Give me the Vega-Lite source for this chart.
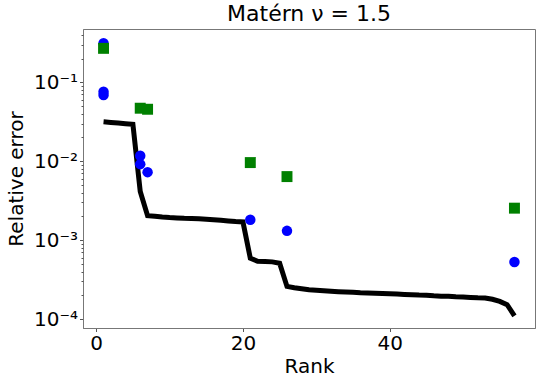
{
  "$schema": "https://vega.github.io/schema/vega-lite/v6.json",
  "width": 452,
  "height": 299,
  "autosize": {"type": "none"},
  "padding": {"left": 83, "top": 29, "right": 5, "bottom": 55},
  "background": "white",
  "config": {
    "font": "DejaVu Sans",
    "view": {"stroke": "#777777", "strokeWidth": 1},
    "axis": {"grid": false, "domainColor": "#777777", "tickColor": "#555555", "labelColor": "black", "titleColor": "black", "labelFont": "DejaVu Sans", "titleFont": "DejaVu Sans", "titleFontWeight": "normal"}
  },
  "title": {"text": "Matérn ν = 1.5", "fontSize": 22, "fontWeight": "normal", "font": "DejaVu Sans", "anchor": "middle", "offset": 3, "color": "black"},
  "datasets": {
    "curve": [
      {"rank": 1, "err": 0.0316}, {"rank": 2, "err": 0.0310}, {"rank": 3, "err": 0.0305}, {"rank": 4, "err": 0.0299}, {"rank": 5, "err": 0.0293},
      {"rank": 6, "err": 0.00414}, {"rank": 7, "err": 0.00204}, {"rank": 8, "err": 0.00200}, {"rank": 9, "err": 0.00196}, {"rank": 10, "err": 0.00193},
      {"rank": 11, "err": 0.00191}, {"rank": 12, "err": 0.00189}, {"rank": 13, "err": 0.00188}, {"rank": 14, "err": 0.00186}, {"rank": 15, "err": 0.00184},
      {"rank": 16, "err": 0.00181}, {"rank": 17, "err": 0.00178}, {"rank": 18, "err": 0.00175}, {"rank": 19, "err": 0.00172}, {"rank": 20, "err": 0.00170},
      {"rank": 21, "err": 0.00059}, {"rank": 22, "err": 0.00054}, {"rank": 23, "err": 0.000535}, {"rank": 24, "err": 0.00053}, {"rank": 25, "err": 0.00051},
      {"rank": 26, "err": 0.000259}, {"rank": 27, "err": 0.000249}, {"rank": 28, "err": 0.000242}, {"rank": 29, "err": 0.000235}, {"rank": 30, "err": 0.000232},
      {"rank": 31, "err": 0.000228}, {"rank": 32, "err": 0.000225}, {"rank": 33, "err": 0.000222}, {"rank": 34, "err": 0.00022}, {"rank": 35, "err": 0.000218},
      {"rank": 36, "err": 0.000215}, {"rank": 37, "err": 0.000214}, {"rank": 38, "err": 0.000212}, {"rank": 39, "err": 0.00021}, {"rank": 40, "err": 0.000209},
      {"rank": 41, "err": 0.000207}, {"rank": 42, "err": 0.000205}, {"rank": 43, "err": 0.000203}, {"rank": 44, "err": 0.000201}, {"rank": 45, "err": 0.0002},
      {"rank": 46, "err": 0.000197}, {"rank": 47, "err": 0.000195}, {"rank": 48, "err": 0.000194}, {"rank": 49, "err": 0.000191}, {"rank": 50, "err": 0.00019},
      {"rank": 51, "err": 0.000188}, {"rank": 52, "err": 0.000186}, {"rank": 53, "err": 0.000185}, {"rank": 54, "err": 0.000178}, {"rank": 55, "err": 0.000167},
      {"rank": 56, "err": 0.000152}, {"rank": 57, "err": 0.00011}
    ],
    "circles": [
      {"rank": 1, "err": 0.312}, {"rank": 1, "err": 0.076}, {"rank": 1, "err": 0.069},
      {"rank": 6, "err": 0.0117}, {"rank": 6, "err": 0.00917}, {"rank": 7, "err": 0.00726},
      {"rank": 21, "err": 0.00181}, {"rank": 26, "err": 0.00131}, {"rank": 57, "err": 0.000527}
    ],
    "squares": [
      {"rank": 1, "err": 0.269}, {"rank": 6, "err": 0.0469}, {"rank": 7, "err": 0.0455},
      {"rank": 21, "err": 0.0096}, {"rank": 26, "err": 0.00638}, {"rank": 57, "err": 0.00254}
    ]
  },
  "layer": [
    {
      "data": {"name": "curve"},
      "mark": {"type": "line", "color": "black", "strokeWidth": 5, "strokeJoin": "miter", "strokeCap": "butt", "clip": true},
      "encoding": {
        "x": {"field": "rank", "type": "quantitative", "scale": {"domain": [-1.8, 59.8], "nice": false, "zero": false},
          "axis": {"values": [0, 20, 40], "title": "Rank", "labelFontSize": 20, "titleFontSize": 20, "tickSize": 3.5, "labelPadding": 2, "titleY": 44.7, "titleBaseline": "alphabetic", "labelFlush": false}},
        "y": {"field": "err", "type": "quantitative", "scale": {"type": "log", "domain": [0.000077, 0.473], "nice": false},
          "axis": {"orient": "left", "values": [0.0001, 0.001, 0.01, 0.1], "title": "Relative error", "labelFontSize": 20, "titleFontSize": 20, "tickSize": 3.5, "labelPadding": 2,
            "labelExpr": "datum.value < 0.0005 ? '10⁻⁴' : datum.value < 0.005 ? '10⁻³' : datum.value < 0.05 ? '10⁻²' : '10⁻¹'",
            "titleX": -61, "titleY": 149.5, "titleBaseline": "alphabetic", "titleAngle": -90, "titleAlign": "center", "labelFlush": false}}
      }
    },
    {
      "data": {"name": "circles"},
      "mark": {"type": "point", "shape": "circle", "filled": true, "color": "#0000ff", "opacity": 1, "size": 110},
      "encoding": {
        "x": {"field": "rank", "type": "quantitative"},
        "y": {"field": "err", "type": "quantitative",
          "axis": {"orient": "left", "values": [0.0002, 0.0003, 0.0004, 0.0005, 0.0006, 0.0007, 0.0008, 0.0009, 0.002, 0.003, 0.004, 0.005, 0.006, 0.007, 0.008, 0.009, 0.02, 0.03, 0.04, 0.05, 0.06, 0.07, 0.08, 0.09, 0.2, 0.3, 0.4],
            "labels": false, "title": null, "domain": false, "tickSize": 2}}
      }
    },
    {
      "data": {"name": "squares"},
      "mark": {"type": "point", "shape": "square", "filled": true, "color": "#008000", "opacity": 1, "size": 120},
      "encoding": {
        "x": {"field": "rank", "type": "quantitative"},
        "y": {"field": "err", "type": "quantitative", "axis": null}
      }
    }
  ],
  "resolve": {"axis": {"y": "independent"}}
}
